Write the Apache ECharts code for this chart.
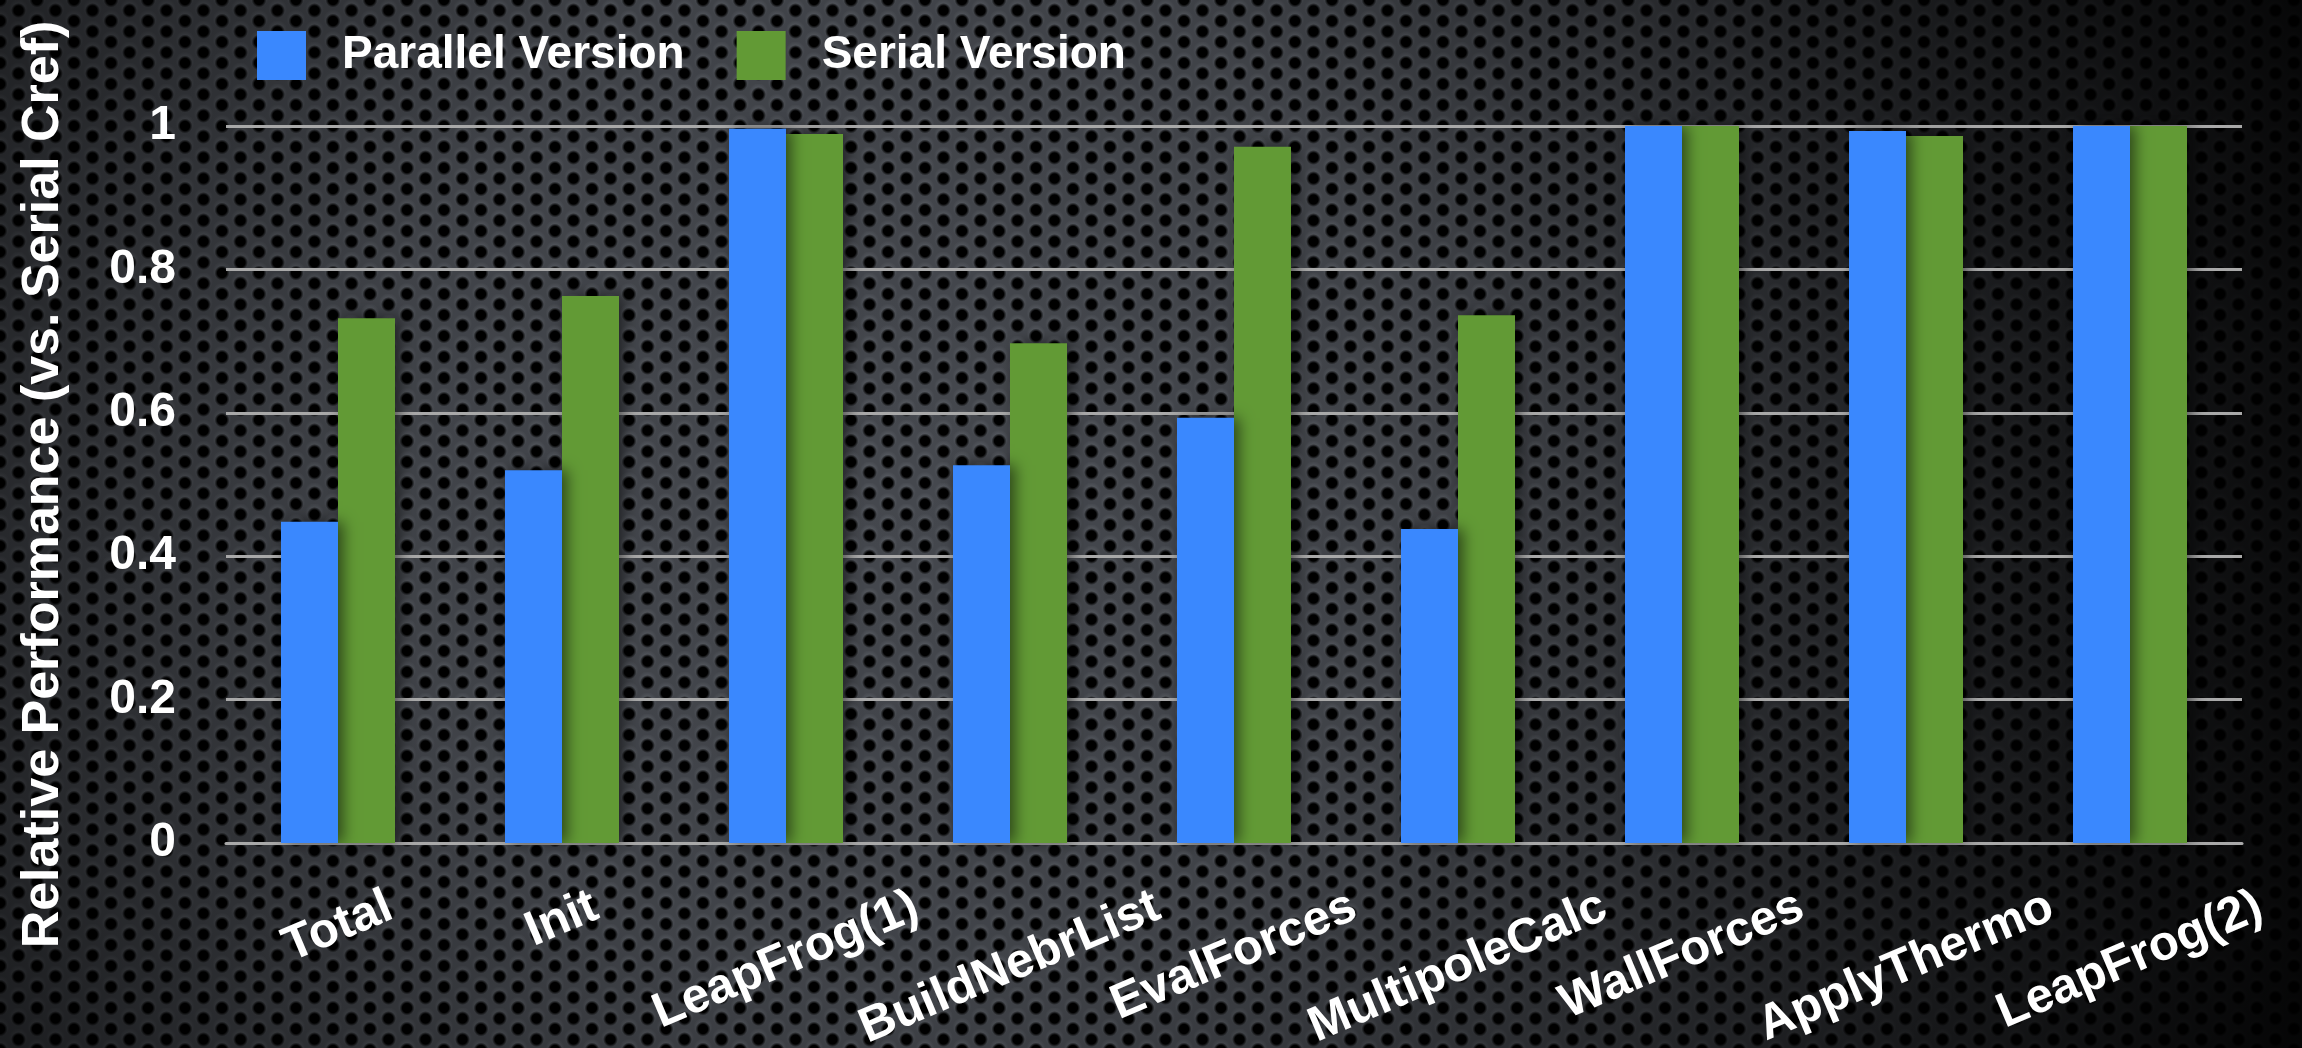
<!DOCTYPE html>
<html>
<head>
<meta charset="utf-8">
<title>Relative Performance</title>
<script src="https://cdn.jsdelivr.net/npm/echarts@6/dist/echarts.min.js"></script>
<style>
  html, body { margin: 0; padding: 0; background: #1b1c1f; }
  #chart { width: 2302px; height: 1048px; }
</style>
</head>
<body>
<div id="chart"></div>
<script>
// Phases of the simulation step
const categories = ['Total', 'Init', 'LeapFrog(1)', 'BuildNebrList', 'EvalForces',
                    'MultipoleCalc', 'WallForces', 'ApplyThermo', 'LeapFrog(2)'];
// Performance relative to the serial C reference
const parallelValues = [0.448, 0.520, 0.996, 0.527, 0.593, 0.438, 1.003, 0.993, 1.003];
const serialValues   = [0.732, 0.763, 0.989, 0.697, 0.971, 0.736, 1.003, 0.986, 1.003];
const seriesNames = ['Parallel Version', 'Serial Version'];
const yAxisTitle = 'Relative Performance (vs. Serial Cref)';

const FONT = '"Liberation Sans", Arial, Helvetica, sans-serif';
const W = 2302, H = 1048;

// Perforated metal backdrop: hexagonal grid of dark holes
function meshTile() {
  const w = 37, h = 21;
  const c = document.createElement('canvas');
  c.width = w; c.height = h;
  const g = c.getContext('2d');
  g.fillStyle = '#45484e';
  g.fillRect(0, 0, w, h);
  const pts = [[0, 0], [w, 0], [0, h], [w, h], [w / 2, h / 2]];
  pts.forEach(([x, y]) => {
    // soft light rim above each hole
    const hl = g.createRadialGradient(x, y - 2, 0, x, y - 2, 9.5);
    hl.addColorStop(0.55, 'rgba(110,115,122,0.35)');
    hl.addColorStop(1, 'rgba(110,115,122,0)');
    g.fillStyle = hl;
    g.beginPath(); g.arc(x, y - 2, 9.5, 0, Math.PI * 2); g.fill();
  });
  pts.forEach(([x, y]) => {
    const rg = g.createRadialGradient(x, y, 0, x, y, 7.5);
    rg.addColorStop(0, 'rgba(0,0,0,1)');
    rg.addColorStop(0.62, 'rgba(0,0,0,1)');
    rg.addColorStop(1, 'rgba(0,0,0,0)');
    g.fillStyle = rg;
    g.beginPath(); g.arc(x, y, 7.5, 0, Math.PI * 2); g.fill();
  });
  return c;
}

// Rotated category labels: centred under each group, top edges level.
// Each label gets its own rich style whose padding pushes wider labels down.
const LABEL_ROTATE = 23;
const LABEL_SIZE = 49;
const measure = document.createElement('canvas').getContext('2d');
measure.font = 'bold ' + LABEL_SIZE + 'px ' + FONT;
const rad = LABEL_ROTATE * Math.PI / 180;
const labelRich = {};
categories.forEach((name, i) => {
  const w = measure.measureText(name).width;
  const d = (w / 2) * Math.sin(rad);
  const p = d * Math.cos(rad), q = d * Math.sin(rad);
  labelRich['c' + i] = {
    color: '#ffffff',
    fontSize: LABEL_SIZE,
    fontWeight: 'bold',
    fontFamily: FONT,
    padding: [2 * p, 2 * q, 0, 0]
  };
});

const chart = echarts.init(document.getElementById('chart'), null, { renderer: 'canvas', width: W, height: H });

const lineColor = '#a9a9a9';

chart.setOption({
  animation: false,
  backgroundColor: '#2a2c30',
  graphic: [
    {
      type: 'rect', silent: true, z: -20,
      shape: { x: 0, y: 0, width: W, height: H },
      style: { fill: { image: meshTile(), repeat: 'repeat' } }
    },
    {
      type: 'rect', silent: true, z: -19,
      shape: { x: 0, y: 0, width: W, height: H },
      style: {
        fill: new echarts.graphic.RadialGradient(900, 470, 1500, [
          { offset: 0, color: 'rgba(0,0,0,0)' },
          { offset: 0.35, color: 'rgba(0,0,0,0.08)' },
          { offset: 0.7, color: 'rgba(0,0,0,0.58)' },
          { offset: 1, color: 'rgba(0,0,0,0.92)' }
        ], true)
      }
    }
  ],
  legend: {
    data: seriesNames,
    left: 252, top: 26,
    icon: 'rect',
    itemWidth: 49, itemHeight: 49, itemGap: 52,
    itemStyle: { shadowBlur: 0, shadowOffsetX: 0 },
    textStyle: { color: '#ffffff', fontSize: 46, fontWeight: 'bold', fontFamily: FONT, padding: [0, 0, 0, 31] }
  },
  grid: { left: 226, right: 60, top: 126, bottom: 205, outerBoundsMode: 'none' },
  xAxis: {
    type: 'category',
    data: categories,
    axisLine: { show: true, lineStyle: { color: lineColor, width: 3 } },
    axisTick: { show: false },
    splitLine: { show: false },
    axisLabel: {
      interval: 0,
      rotate: LABEL_ROTATE,
      align: 'center',
      verticalAlign: 'middle',
      margin: 62,
      color: '#ffffff',
      fontSize: LABEL_SIZE,
      fontWeight: 'bold',
      fontFamily: FONT,
      formatter: (value, index) => '{c' + index + '|' + value + '}',
      rich: labelRich
    }
  },
  yAxis: {
    type: 'value',
    min: 0, max: 1, interval: 0.2,
    axisLine: { show: false },
    axisTick: { show: false },
    splitLine: { show: true, lineStyle: { color: lineColor, width: 3 } },
    axisLabel: { margin: 50, color: '#ffffff', fontSize: 48, fontWeight: 'bold', fontFamily: FONT },
    name: yAxisTitle,
    nameLocation: 'middle',
    nameRotate: 90,
    nameGap: 156,
    nameTextStyle: { color: '#ffffff', fontSize: 52, fontWeight: 'bold', fontFamily: FONT }
  },
  series: [
    {
      name: seriesNames[0], type: 'bar', data: parallelValues,
      barWidth: 57, barGap: '0%', z: 3,
      itemStyle: { color: '#3a88fe', shadowColor: 'rgba(0,0,0,0.55)', shadowBlur: 14, shadowOffsetX: 5 }
    },
    {
      name: seriesNames[1], type: 'bar', data: serialValues,
      barWidth: 57, barGap: '0%', z: 2,
      itemStyle: { color: '#629a35', shadowColor: 'rgba(0,0,0,0.5)', shadowBlur: 14, shadowOffsetX: 5 }
    }
  ]
});
</script>
</body>
</html>
